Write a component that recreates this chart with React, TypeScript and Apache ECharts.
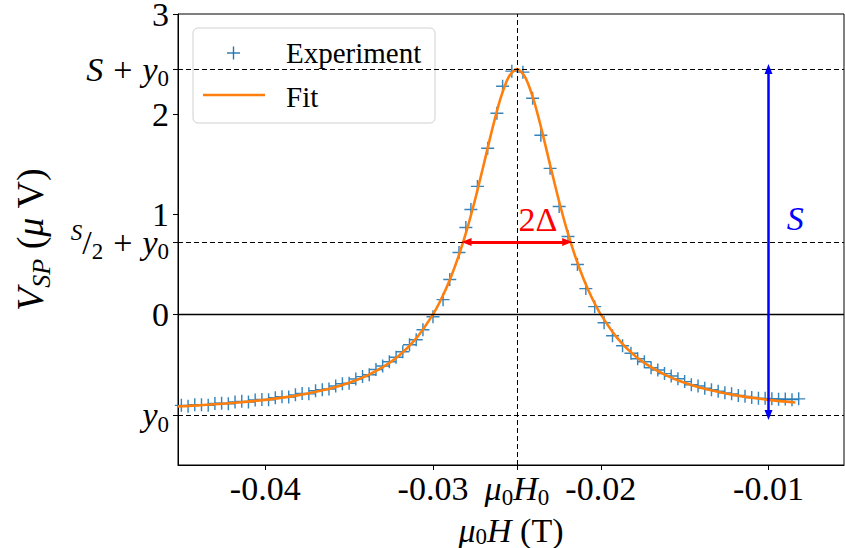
import React, { useEffect, useRef } from "react";
import * as echarts from "echarts";

// Experiment (field in T, signal in μV)
const expX = [
  -0.045, -0.0446, -0.0442, -0.0438, -0.0434, -0.043, -0.0426, -0.0422, -0.0418, -0.0414,
  -0.041, -0.0406, -0.0402, -0.0398, -0.0394, -0.039, -0.0386, -0.0382, -0.0378, -0.0374,
  -0.037, -0.0366, -0.0362, -0.0358, -0.0354, -0.035, -0.0346, -0.0342, -0.0338, -0.0334,
  -0.033, -0.0326, -0.0322, -0.0318, -0.0314, -0.031, -0.0306, -0.03, -0.0294, -0.029,
  -0.02845, -0.02804, -0.02774, -0.02735, -0.02674, -0.02619, -0.02585, -0.0253, -0.02464, -0.02406,
  -0.02357, -0.02302, -0.02248, -0.02195, -0.02139, -0.02089, -0.02036, -0.0198, -0.0193, -0.0187,
  -0.0182, -0.0178, -0.0174, -0.017, -0.0166, -0.0162, -0.0158, -0.0154, -0.015, -0.0146,
  -0.0142, -0.0138, -0.0134, -0.013, -0.0126, -0.0122, -0.0118, -0.0114, -0.011, -0.0106,
  -0.0102, -0.0098, -0.0094, -0.009, -0.0086, -0.0082,
];
const expY = [
  -0.905, -0.915, -0.898, -0.9, -0.905, -0.886, -0.884, -0.89, -0.872, -0.865,
  -0.872, -0.852, -0.846, -0.85, -0.828, -0.818, -0.822, -0.8, -0.786, -0.79,
  -0.76, -0.748, -0.742, -0.712, -0.69, -0.684, -0.642, -0.618, -0.6, -0.548,
  -0.512, -0.47, -0.425, -0.37, -0.3, -0.25, -0.15, -0.02, 0.15, 0.35,
  0.62, 0.87, 1.05, 1.28, 1.66, 2.01, 2.28, 2.43, 2.42, 2.16,
  1.79, 1.46, 1.08, 0.78, 0.5, 0.26, 0.08, -0.08, -0.21, -0.31,
  -0.385, -0.44, -0.47, -0.53, -0.552, -0.588, -0.612, -0.64, -0.668, -0.7,
  -0.712, -0.735, -0.748, -0.765, -0.78, -0.79, -0.806, -0.815, -0.826, -0.835,
  -0.835, -0.838, -0.845, -0.842, -0.848, -0.84,
];

// Fit curve
const fitX = [
  -0.0452, -0.044, -0.042, -0.04, -0.038, -0.036, -0.035, -0.034, -0.033, -0.032,
  -0.031, -0.03, -0.0295, -0.029, -0.0285, -0.028, -0.0275, -0.027, -0.0265, -0.026,
  -0.0255, -0.025, -0.0245, -0.024, -0.0235, -0.023, -0.0225, -0.022, -0.0215, -0.021,
  -0.0205, -0.02, -0.019, -0.018, -0.017, -0.016, -0.015, -0.014, -0.012, -0.01, -0.0084,
];
const fitY = [
  -0.916, -0.905, -0.882, -0.85, -0.803, -0.731, -0.68, -0.613, -0.524, -0.404,
  -0.236, 0.003, 0.159, 0.346, 0.571, 0.836, 1.142, 1.481, 1.829, 2.143,
  2.368, 2.45, 2.368, 2.143, 1.829, 1.481, 1.142, 0.836, 0.571, 0.346,
  0.159, 0.003, -0.236, -0.404, -0.524, -0.613, -0.68, -0.731, -0.803, -0.85, -0.876,
];

// Fit parameters shown as guides
const x0 = -0.025;
const y0 = -1.0;
const peak = 2.45; // S + y0
const half = 0.725; // S/2 + y0
const halfLeft = -0.028;
const halfRight = -0.022;
const sArrowX = -0.01;

// Axis ranges
const xMin = -0.0452;
const xMax = -0.0055;
const yMin = -1.5;
const yMax = 3;

// Ticks
const xTickValues = [-0.04, -0.03, -0.025, -0.02, -0.01];
const xTickLabels = ["{n|-0.04}", "{n|-0.03}", "{i|μ}{s|0}{i|H}{s|0}", "{n|-0.02}", "{n|-0.01}"];
const yTickValues = [-1, 0, 0.725, 1, 2, 2.45, 3];
const yTickLabels = [
  "{i|y}{s|0}",
  "{d|0}",
  "{sp|S}{n|/}{s|2}{p|+}{i|y}{s|0}",
  "{d|1}",
  "{d|2}",
  "{i|S}{p|+}{i|y}{s|0}",
  "{d|3}",
];

const FONT = "'Liberation Serif', 'DejaVu Serif', serif";
const FS = 34;

const mkRich = (fs: number, sub: number, lh: number) => ({
  n: { fontFamily: FONT, fontSize: fs, lineHeight: lh, color: "#000" },
  d: { fontFamily: FONT, fontSize: fs, lineHeight: 26, color: "#000" },
  p: { fontFamily: FONT, fontSize: fs, lineHeight: lh, color: "#000", padding: [0, 10, 0, 10] },
  i: { fontFamily: FONT, fontSize: fs, lineHeight: lh, fontStyle: "italic", color: "#000" },
  si: { fontFamily: FONT, fontSize: sub, lineHeight: sub + 2, verticalAlign: "bottom", fontStyle: "italic", color: "#000" },
  s: { fontFamily: FONT, fontSize: sub, lineHeight: sub + 2, verticalAlign: "bottom", color: "#000" },
  sp: { fontFamily: FONT, fontSize: sub, lineHeight: sub + 2, verticalAlign: "top", fontStyle: "italic", color: "#000" },
});

const richTicks = mkRich(FS, 23, 42);
const richYName = mkRich(38, 26, 48);
const richXName = mkRich(34, 23, 34);

function pick(values: number[], labels: string[], v: number) {
  for (let k = 0; k < values.length; k++) {
    if (Math.abs(values[k] - v) < 1e-7) return labels[k];
  }
  return "";
}

export default function App() {
  const ref = useRef<HTMLDivElement>(null);
  useEffect(() => {
    if (!ref.current) return;
    const chart = echarts.init(ref.current, null, { renderer: "svg" });
    const dashed = { color: "#000", width: 1, type: [5, 3] as any };
    const hLine = (y: number) => [
      { coord: [xMin, y], lineStyle: dashed },
      { coord: [xMax, y] },
    ];
    chart.setOption({
      animation: false,
      backgroundColor: "#fff",
      grid: {
        left: 178,
        top: 14,
        right: 1,
        bottom: 83,
        containLabel: false,
        outerBoundsMode: "none",
        show: true,
        borderColor: "#000",
        borderWidth: 1,
        backgroundColor: "transparent",
      },
      xAxis: {
        type: "value",
        min: xMin,
        max: xMax,
        name: "{i|μ}{s|0}{i|H}{n| (T)}",
        nameLocation: "middle",
        nameGap: 34,
        nameTextStyle: { fontFamily: FONT, fontSize: 34, rich: richXName },
        axisLine: { show: true, onZero: false, lineStyle: { color: "#000", width: 1 } },
        axisTick: { show: true, inside: false, length: 5, customValues: xTickValues, lineStyle: { color: "#000" } },
        axisLabel: {
          show: true,
          customValues: xTickValues,
          margin: 2,
          fontFamily: FONT,
          fontSize: FS,
          color: "#000",
          rich: richTicks,
          formatter: (v: number) => pick(xTickValues, xTickLabels, v),
        },
        splitLine: { show: false },
      },
      yAxis: {
        type: "value",
        min: yMin,
        max: yMax,
        name: "{i|V}{si|SP}{n| (}{i|μ}{n| V)}",
        nameLocation: "middle",
        nameRotate: 90,
        nameGap: 124,
        nameTextStyle: { fontFamily: FONT, fontSize: 38, rich: richYName },
        axisLine: { show: true, onZero: false, lineStyle: { color: "#000", width: 1 } },
        axisTick: { show: true, inside: false, length: 5, customValues: yTickValues, lineStyle: { color: "#000" } },
        axisLabel: {
          show: true,
          customValues: yTickValues,
          margin: 9,
          fontFamily: FONT,
          fontSize: FS,
          color: "#000",
          rich: richTicks,
          formatter: (v: number) => pick(yTickValues, yTickLabels, v),
        },
        splitLine: { show: false },
      },
      series: [
        {
          name: "guides",
          type: "line",
          data: [],
          z: 1,
          silent: true,
          markLine: {
            silent: true,
            symbol: "none",
            label: { show: false },
            animation: false,
            data: [
              hLine(peak),
              hLine(half),
              hLine(y0),
              [{ coord: [x0, yMin], lineStyle: dashed }, { coord: [x0, yMax] }],
              [
                { coord: [xMin, 0], lineStyle: { color: "#000", width: 1.3, type: "solid" } },
                { coord: [xMax, 0] },
              ],
            ],
          },
        },
        {
          name: "Experiment",
          type: "scatter",
          z: 3,
          data: expX.map((x, k) => [x, expY[k]]),
          symbol: "path://M4.45,0 H5.55 V4.45 H10 V5.55 H5.55 V10 H4.45 V5.55 H0 V4.45 H4.45 Z",
          symbolSize: 13,
          itemStyle: { color: "#1f77b4", opacity: 0.9 },
        },
        {
          name: "Fit",
          type: "line",
          z: 4,
          data: fitX.map((x, k) => [x, fitY[k]]),
          symbol: "none",
          smooth: 0.3,
          lineStyle: { color: "#ff7f0e", width: 2.6 },
        },
        {
          name: "S arrow",
          type: "line",
          data: [],
          z: 5,
          silent: true,
          markLine: {
            silent: true,
            symbol: ["triangle", "triangle"],
            symbolSize: [8, 10],
            label: { show: false },
            lineStyle: { color: "#0000ff", width: 2.5, type: "solid" },
            data: [[{ coord: [sArrowX, y0] }, { coord: [sArrowX, peak] }]],
          },
          markPoint: {
            silent: true,
            symbol: "circle",
            symbolSize: 0,
            label: {
              show: true,
              position: "inside",
              formatter: "S",
              fontFamily: FONT,
              fontStyle: "italic",
              fontSize: FS,
              color: "#0000ff",
            },
            data: [{ coord: [-0.0084, 0.96] }],
          },
        },
        {
          name: "2Delta arrow",
          type: "line",
          data: [],
          z: 5,
          silent: true,
          markLine: {
            silent: true,
            symbol: ["triangle", "triangle"],
            symbolSize: [8, 10],
            label: { show: false },
            lineStyle: { color: "#ff0000", width: 2.8, type: "solid" },
            data: [[{ coord: [halfLeft, half] }, { coord: [halfRight, half] }]],
          },
          markPoint: {
            silent: true,
            symbol: "circle",
            symbolSize: 0,
            label: {
              show: true,
              position: "inside",
              formatter: "2Δ",
              fontFamily: FONT,
              fontSize: FS,
              color: "#ff0000",
            },
            data: [{ coord: [-0.02375, 0.95] }],
          },
        },
      ],
      graphic: [
        {
          type: "group",
          z: 100,
          children: [
            {
              type: "rect",
              shape: { x: 193, y: 28, width: 242, height: 95, r: 5 },
              style: { fill: "rgba(255,255,255,0.8)", stroke: "#d0d0d0", lineWidth: 1 },
            },
            {
              type: "line",
              shape: { x1: 227, y1: 53, x2: 240, y2: 53 },
              style: { stroke: "#1f77b4", lineWidth: 1.4 },
            },
            {
              type: "line",
              shape: { x1: 233.5, y1: 46.5, x2: 233.5, y2: 59.5 },
              style: { stroke: "#1f77b4", lineWidth: 1.4 },
            },
            {
              type: "text",
              x: 286,
              y: 53,
              style: { text: "Experiment", fontFamily: FONT, fontSize: 29, fill: "#000", verticalAlign: "middle", align: "left" },
            },
            {
              type: "line",
              shape: { x1: 203, y1: 95, x2: 265, y2: 95 },
              style: { stroke: "#ff7f0e", lineWidth: 2.6 },
            },
            {
              type: "text",
              x: 286,
              y: 97,
              style: { text: "Fit", fontFamily: FONT, fontSize: 29, fill: "#000", verticalAlign: "middle", align: "left" },
            },
          ],
        },
      ],
    });
    return () => chart.dispose();
  }, []);
  return <div ref={ref} style={{ position: "fixed", left: 0, top: 0, width: 845, height: 548 }} />;
}
